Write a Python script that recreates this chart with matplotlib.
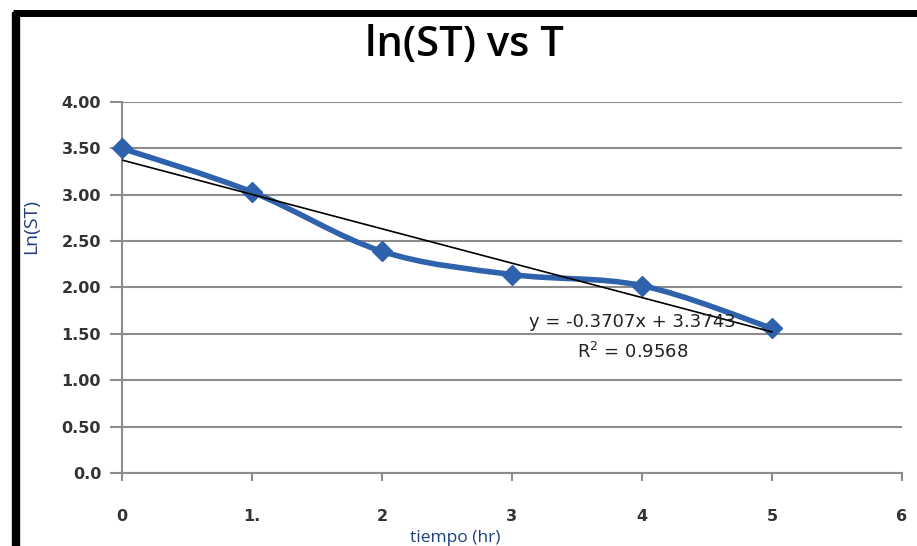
import matplotlib
matplotlib.use("Agg")
import matplotlib.pyplot as plt
from matplotlib.path import Path
from matplotlib.patches import PathPatch
from matplotlib.lines import Line2D
import numpy as np

# tiempo (hr) vs ln(ST)
tiempo = [0, 1, 2, 3, 4, 5]
ln_st = [3.50, 3.03, 2.39, 2.14, 2.02, 1.56]

# linear trend as reported
slope = -0.3707
intercept = 3.3743
r2 = 0.9568

y_ticks = [0.0, 0.5, 1.0, 1.5, 2.0, 2.5, 3.0, 3.5, 4.0]
y_tick_labels = ["0.0", "0.50", "1.00", "1.50", "2.00", "2.50", "3.00", "3.50", "4.00"]
x_ticks = [0, 1, 2, 3, 4, 5, 6]
x_tick_labels = ["0", "1.", "2", "3", "4", "5", "6"]

blue = "#2F62AC"
grid_gray = "#8C8C8C"
tick_color = "#333333"

fig = plt.figure(figsize=(9.17, 5.46), dpi=100)
ax = fig.add_axes([0.133, 0.1337, 0.8505, 0.6795])

ax.set_xlim(0, 6)
ax.set_ylim(0, 4)
ax.set_yticks(y_ticks)
ax.set_yticklabels(y_tick_labels)
ax.set_xticks(x_ticks)
ax.set_xticklabels(x_tick_labels)

for sp in ["top", "right"]:
    ax.spines[sp].set_visible(False)
ax.spines["left"].set_color(grid_gray)
ax.spines["bottom"].set_color(grid_gray)
ax.spines["left"].set_linewidth(1.5)
ax.spines["bottom"].set_linewidth(1.5)

ax.yaxis.grid(True, color=grid_gray, linewidth=1.5)
ax.set_axisbelow(True)
ax.tick_params(axis="y", direction="out", length=9, width=1.5, color=grid_gray,
               labelsize=11.5, labelcolor=tick_color, pad=6)
ax.tick_params(axis="x", direction="out", length=6, width=1.5, color=grid_gray,
               labelsize=11.5, labelcolor=tick_color, pad=20)
for lab in ax.get_yticklabels():
    lab.set_fontfamily("DejaVu Sans")
    lab.set_fontweight("bold")
for lab in ax.get_xticklabels():
    lab.set_fontfamily("DejaVu Sans")
    lab.set_fontweight("semibold")

# smoothed series line (Catmull-Rom style Bezier segments)
pts = np.column_stack([tiempo, ln_st]).astype(float)
verts = [tuple(pts[0])]
codes = [Path.MOVETO]
n = len(pts)
for i in range(n - 1):
    p0 = pts[i - 1] if i > 0 else pts[i]
    p1 = pts[i]
    p2 = pts[i + 1]
    p3 = pts[i + 2] if i + 2 < n else pts[i + 1]
    c1 = p1 + (p2 - p0) / 6.0
    c2 = p2 - (p3 - p1) / 6.0
    verts += [tuple(c1), tuple(c2), tuple(p2)]
    codes += [Path.CURVE4] * 3
ax.add_patch(PathPatch(Path(verts, codes), facecolor="none", edgecolor=blue,
                       linewidth=4, capstyle="round", joinstyle="round", zorder=3))
ax.plot(tiempo, ln_st, linestyle="none", marker="D", markersize=10,
        color=blue, zorder=4, clip_on=False)

# trend line
xt = np.array([tiempo[0], tiempo[-1]])
ax.plot(xt, slope * xt + intercept, color="black", linewidth=1.2, zorder=5)

ax.text(3.93, 1.63, f"y = {slope:.4f}x + {intercept:.4f}", ha="center", va="center",
        fontsize=13, color="#222222", family="DejaVu Sans", zorder=6)
ax.text(3.93, 1.31, f"R$^2$ = {r2:.4f}", ha="center", va="center",
        fontsize=13, color="#222222", family="DejaVu Sans", zorder=6)

fig.text(0.507, 0.918, "ln(ST) vs T", ha="center", va="center", fontsize=30,
         fontweight="semibold", family="Open Sans", color="black")
fig.text(0.034, 0.585, "Ln(ST)", rotation=90, ha="center", va="center",
         fontsize=14, color="#1F3F7A", family="Open Sans")
fig.text(0.496, 0.014, "tiempo (hr)", ha="center", va="center",
         fontsize=12.5, color="#1F3F7A", family="Open Sans")

# outer frame on left and top
fig.add_artist(Line2D([0.017, 0.017], [0.0, 0.978], color="black", linewidth=6,
                      transform=fig.transFigure, solid_capstyle="butt"))
fig.add_artist(Line2D([0.0138, 1.0], [0.976, 0.976], color="black", linewidth=5,
                      transform=fig.transFigure, solid_capstyle="butt"))

fig.savefig("out.png", dpi=100)
